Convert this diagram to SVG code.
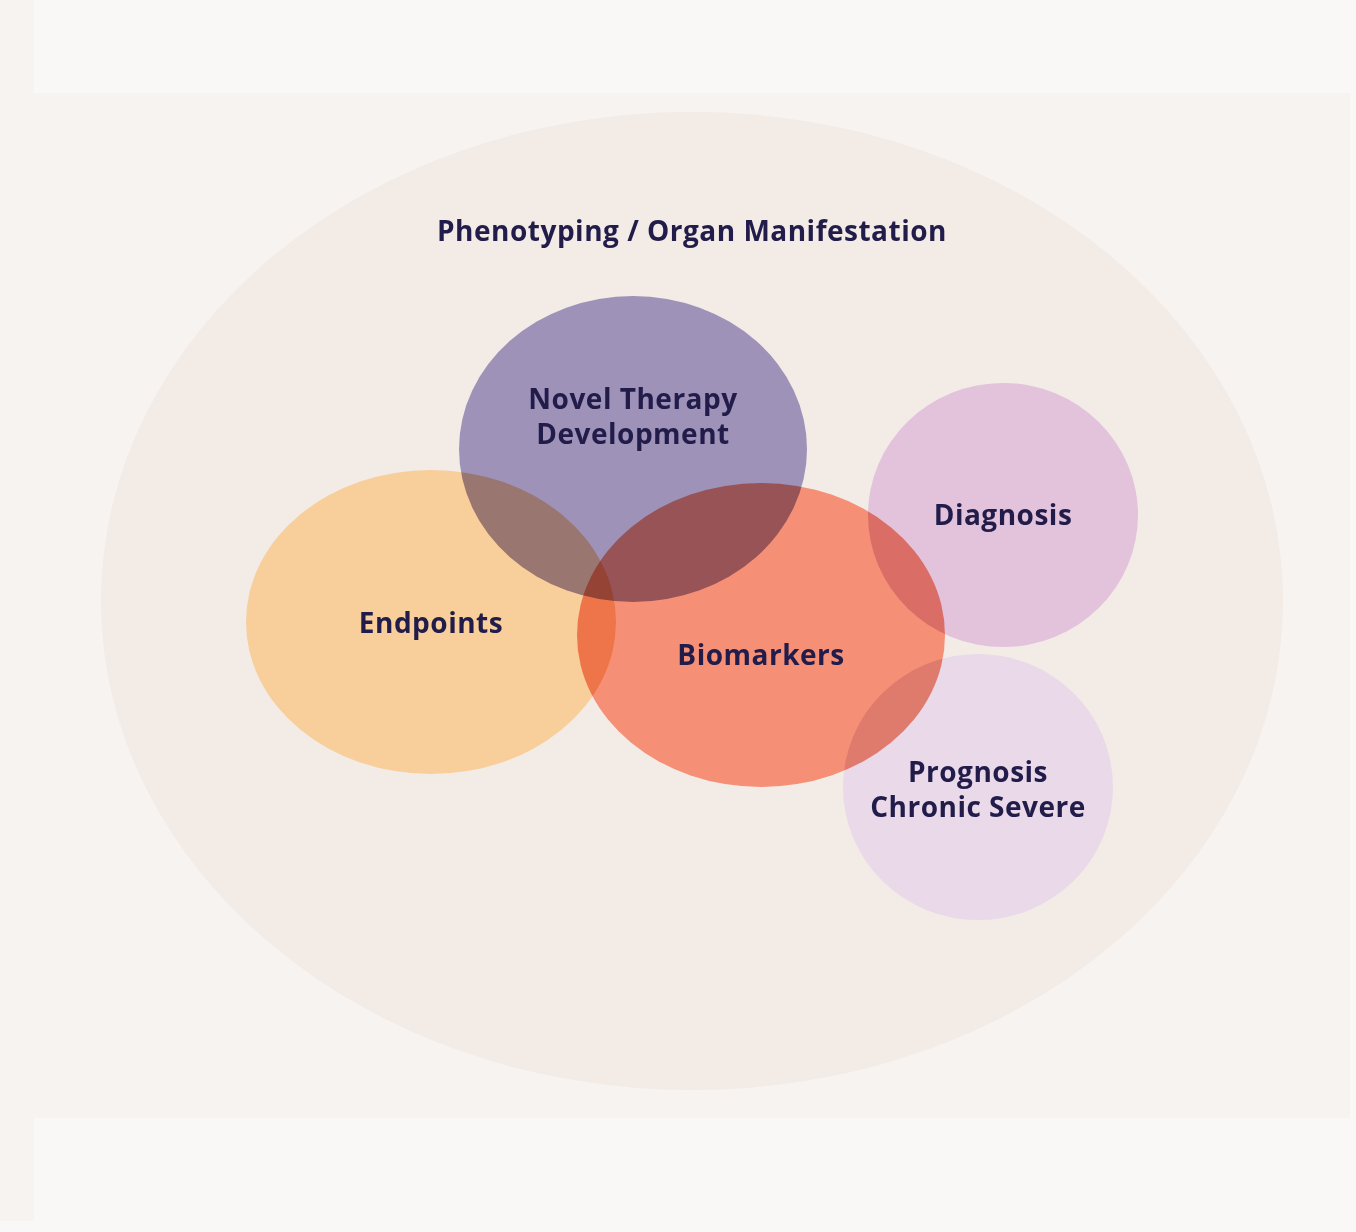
<svg xmlns="http://www.w3.org/2000/svg" width="1356" height="1232" viewBox="0 0 1356 1232">
<style>
.lbl{font-family:"Open Sans",Lato,"Liberation Sans",sans-serif;font-weight:700;font-size:28px;letter-spacing:0.5px;fill:#211c4a;text-anchor:middle}
.blobs{isolation:isolate}
.blob{mix-blend-mode:multiply}
</style>
<rect x="0" y="0" width="1356" height="1232" fill="#f9f8f6"/>
<rect x="0" y="0" width="34" height="1221" fill="#f7f3f0"/>
<rect x="34" y="93" width="1316" height="1025" fill="#f6f3f0"/>
<g id="phenotyping">
<ellipse cx="692" cy="601" rx="591" ry="489" fill="#f2ebe6"/>
<text class="lbl" x="692" y="241">Phenotyping / Organ Manifestation</text>
</g>
<g class="blobs">
<g id="novel-therapy">
<ellipse class="blob" cx="633" cy="449" rx="174" ry="153" fill="#9e92b8"/>
</g>
<g id="endpoints">
<ellipse class="blob" cx="431" cy="622" rx="185" ry="152" fill="#f8ce9b"/>
</g>
<g id="biomarkers">
<ellipse class="blob" cx="761" cy="635" rx="184" ry="152" fill="#f59077"/>
</g>
<g id="diagnosis">
<ellipse class="blob" cx="1003" cy="515" rx="135" ry="132" fill="#e3c2db"/>
</g>
<g id="prognosis">
<ellipse class="blob" cx="978" cy="787" rx="135" ry="133" fill="#e9d9e9"/>
</g>
</g>
<g id="labels">
<text class="lbl" x="633" y="409">Novel Therapy</text>
<text class="lbl" x="633" y="444">Development</text>
<text class="lbl" x="431" y="633">Endpoints</text>
<text class="lbl" x="761" y="665">Biomarkers</text>
<text class="lbl" x="1003" y="525">Diagnosis</text>
<text class="lbl" x="978" y="782">Prognosis</text>
<text class="lbl" x="978" y="817">Chronic Severe</text>
</g>
<g id="connectors"></g>
</svg>
